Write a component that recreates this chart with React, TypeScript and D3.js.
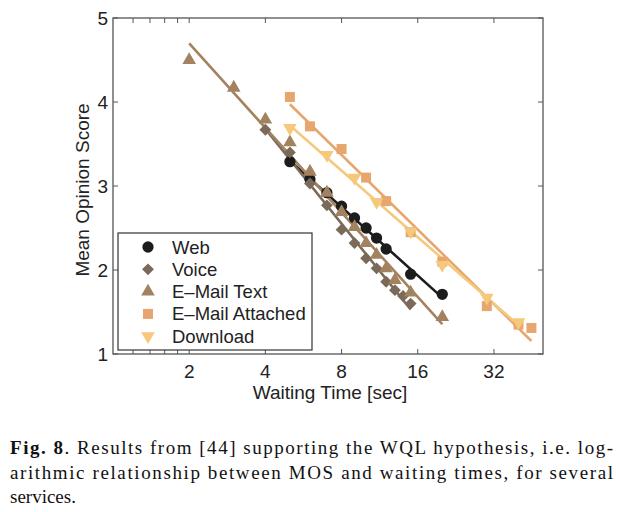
import * as d3 from 'd3';

// waiting time [sec] and MOS per service
const webX = [5, 6, 7, 8, 9, 10, 11, 12, 15, 20];
const webY = [3.29, 3.08, 2.92, 2.76, 2.62, 2.5, 2.38, 2.25, 1.95, 1.71];

const voiceX = [4, 5, 6, 7, 8, 9, 10, 11, 12, 13, 14, 15];
const voiceY = [3.67, 3.4, 3.03, 2.77, 2.48, 2.32, 2.14, 2.02, 1.86, 1.76, 1.69, 1.6];

const mailTextX = [2, 3, 4, 5, 6, 7, 8, 9, 10, 11, 12, 13, 15, 20];
const mailTextY = [4.5, 4.17, 3.79, 3.52, 3.17, 2.92, 2.69, 2.51, 2.32, 2.18, 2.02, 1.88, 1.73, 1.44];

const mailAttX = [5, 6, 8, 10, 12, 15, 20, 30, 40, 45];
const mailAttY = [4.06, 3.71, 3.44, 3.1, 2.82, 2.45, 2.1, 1.57, 1.35, 1.31];

const downloadX = [5, 7, 9, 11, 15, 20, 30, 40];
const downloadY = [3.69, 3.37, 3.1, 2.81, 2.46, 2.06, 1.67, 1.38];

const xTicks = [2, 4, 8, 16, 32];
const xMinorTicks = [1.2, 1.4, 1.6, 1.8];
const yTicks = [1, 2, 3, 4, 5];

const series = [
  { name: 'Web', xs: webX, ys: webY, color: '#1c1c1c', shape: 'circle' },
  { name: 'Voice', xs: voiceX, ys: voiceY, color: '#7b6a59', shape: 'diamond' },
  { name: 'E\u2013Mail Text', xs: mailTextX, ys: mailTextY, color: '#a3835f', shape: 'triangle' },
  { name: 'E\u2013Mail Attached', xs: mailAttX, ys: mailAttY, color: '#e6a66d', shape: 'square' },
  { name: 'Download', xs: downloadX, ys: downloadY, color: '#f5c87c', shape: 'down' },
];

const W = 620;
const H = 512;
const m = { left: 113, right: 543, top: 18, bottom: 354 };

const x = d3.scaleLog().base(2).domain([1, 50]).range([m.left, m.right]);
const y = d3.scaleLinear().domain([1, 5]).range([m.bottom, m.top]);

// least squares fit of MOS against log(t)
function fit(xs: number[], ys: number[]) {
  const lx = xs.map((v) => Math.log2(v));
  const mx = d3.mean(lx)!;
  const my = d3.mean(ys)!;
  let num = 0;
  let den = 0;
  lx.forEach((v, i) => { num += (v - mx) * (ys[i] - my); den += (v - mx) ** 2; });
  const b = num / den;
  const a = my - b * mx;
  return (t: number) => a + b * Math.log2(t);
}

function markerPath(shape: string) {
  if (shape === 'circle') return d3.symbol(d3.symbolCircle, 100)()!;
  if (shape === 'diamond') return d3.symbol(d3.symbolSquare, 70)()!;
  if (shape === 'square') return d3.symbol(d3.symbolSquare, 100)()!;
  return d3.symbol(d3.symbolTriangle, 80)()!;
}

function markerRot(shape: string) {
  if (shape === 'diamond') return 45;
  if (shape === 'down') return 180;
  return 0;
}

function Marker({ shape, color, cx, cy }: { shape: string; color: string; cx: number; cy: number }) {
  return (
    <path
      d={markerPath(shape)}
      fill={color}
      transform={`translate(${cx},${cy}) rotate(${markerRot(shape)})`}
    />
  );
}

export default function App() {
  const font = '"Liberation Sans", Arial, Helvetica, sans-serif';
  const serif = '"Liberation Serif", "Times New Roman", serif';

  return (
    <svg width={W} height={H} style={{ position: 'absolute', left: 0, top: 0, background: '#fff' }}>
      <rect width={W} height={H} fill="#fff" />

      {/* fitted lines */}
      {series.map((s) => {
        const f = fit(s.xs, s.ys);
        const ext = d3.extent(s.xs) as [number, number];
        const l = d3.line<number>().x((t) => x(t)).y((t) => y(f(t)));
        return <path key={s.name + 'l'} d={l(ext)!} fill="none" stroke={s.color} strokeWidth={2.6} />;
      })}

      {/* markers */}
      {series.map((s) => (
        <g key={s.name}>
          {s.xs.map((t, i) => (
            <Marker key={i} shape={s.shape} color={s.color} cx={x(t)} cy={y(s.ys[i])} />
          ))}
        </g>
      ))}

      {/* frame */}
      <rect x={m.left} y={m.top} width={m.right - m.left} height={m.bottom - m.top}
        fill="none" stroke="#555" strokeWidth={1.3} />

      {[...xTicks, ...xMinorTicks].map((t) => (
        <g key={'xt' + t} stroke="#555" strokeWidth={1}>
          <line x1={x(t)} x2={x(t)} y1={m.bottom} y2={m.bottom - 5} />
          <line x1={x(t)} x2={x(t)} y1={m.top} y2={m.top + 5} />
        </g>
      ))}
      {yTicks.map((t) => (
        <g key={'yt' + t} stroke="#555" strokeWidth={1}>
          <line x1={m.left} x2={m.left + 5} y1={y(t)} y2={y(t)} />
          <line x1={m.right} x2={m.right - 5} y1={y(t)} y2={y(t)} />
        </g>
      ))}

      {xTicks.map((t) => (
        <text key={'xl' + t} x={x(t)} y={m.bottom + 24} textAnchor="middle"
          fontFamily={font} fontSize={19} fill="#222">{t}</text>
      ))}
      {yTicks.map((t) => (
        <text key={'yl' + t} x={m.left - 5} y={y(t) + 7} textAnchor="end"
          fontFamily={font} fontSize={19} fill="#222">{t}</text>
      ))}

      <text x={(m.left + m.right) / 2 + 2} y={399} textAnchor="middle" fontFamily={font} fontSize={19} fill="#222">
        Waiting Time [sec]
      </text>
      <text transform={`translate(89,${(m.top + m.bottom) / 2 + 4}) rotate(-90)`} textAnchor="middle"
        fontFamily={font} fontSize={19} fill="#222">
        Mean Opinion Score
      </text>

      {/* legend */}
      <rect x={118} y={233} width={194} height={117} fill="#fff" stroke="#333" strokeWidth={1.2} />
      {series.map((s, i) => (
        <g key={'lg' + s.name}>
          <Marker shape={s.shape} color={s.color} cx={148} cy={247 + i * 22.3} />
          <text x={172} y={253.5 + i * 22.3} fontFamily={font} fontSize={18.5} fill="#222">{s.name}</text>
        </g>
      ))}

      {/* caption */}
      <text x={10} y={454} fontFamily={serif} fontSize={19} fill="#111" textLength={603} lengthAdjust="spacing">
        <tspan fontWeight="bold">Fig. 8</tspan>. Results from [44] supporting the WQL hypothesis, i.e. log-
      </text>
      <text x={10} y={479} fontFamily={serif} fontSize={19} fill="#111" textLength={603} lengthAdjust="spacing">
        arithmic relationship between MOS and waiting times, for several
      </text>
      <text x={10} y={503} fontFamily={serif} fontSize={19} fill="#111">services.</text>
    </svg>
  );
}
